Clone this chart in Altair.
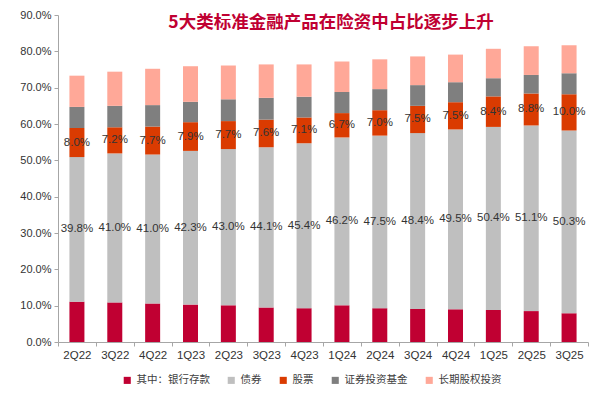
import altair as alt
import pandas as pd

quarters = ["2Q22", "3Q22", "4Q22", "1Q23", "2Q23", "3Q23", "4Q23",
            "1Q24", "2Q24", "3Q24", "4Q24", "1Q25", "2Q25", "3Q25"]
series_names = ["其中：银行存款", "债券", "股票", "证券投资基金", "长期股权投资"]
series_colors = ["#C00032", "#BFBFBF", "#DA3B01", "#7F7F7F", "#FFA898"]

bank = [11.1, 10.9, 10.6, 10.3, 10.1, 9.5, 9.3, 10.1, 9.3, 9.1, 9.0, 8.8, 8.5, 7.9]
bond = [39.8, 41.0, 41.0, 42.3, 43.0, 44.1, 45.4, 46.2, 47.5, 48.4, 49.5, 50.4, 51.1, 50.3]
stock = [8.0, 7.2, 7.7, 7.9, 7.7, 7.6, 7.1, 6.7, 7.0, 7.5, 7.5, 8.4, 8.8, 10.0]
fund = [5.8, 5.9, 5.9, 5.6, 6.0, 6.0, 5.7, 5.8, 5.8, 5.7, 5.5, 5.0, 5.1, 5.8]
equity = [8.6, 9.4, 10.0, 9.8, 9.3, 9.2, 8.9, 8.4, 8.2, 7.9, 7.6, 8.1, 7.9, 7.7]
y_ticks = [0, 10, 20, 30, 40, 50, 60, 70, 80, 90]

title_text = "5大类标准金融产品在险资中占比逐步上升"

all_series = [bank, bond, stock, fund, equity]
rows = []
for i, q in enumerate(quarters):
    for k, vals in enumerate(all_series):
        rows.append({"q": q, "s": series_names[k], "o": k, "v": vals[i]})
df = pd.DataFrame(rows)

base = alt.Chart(df).transform_stack(
    stack="v", groupby=["q"], sort=[alt.SortField("o", order="ascending")], as_=["y0", "y1"]
)

x_axis = alt.Axis(title=None, labelAngle=0, tickBand="extent", labelFont="Liberation Sans",
                  labelFontSize=11.5, labelColor="#333333", domainColor="#A6A6A6",
                  tickColor="#A6A6A6", tickSize=4, labelPadding=3)
x_scale = alt.Scale(paddingInner=0, paddingOuter=0)

y_axis = alt.Axis(title=None, values=y_ticks, tickCount=10, grid=False,
                  labelOverlap=False,
                  labelExpr="format(datum.value, '.1f') + '%'",
                  labelFont="Liberation Sans", labelFontSize=11,
                  labelColor="#333333", domainColor="#A6A6A6",
                  tickColor="#A6A6A6", tickSize=4, labelPadding=3)
y_scale = alt.Scale(domain=[0, 90], nice=False)

bars = base.mark_bar(width=15).encode(
    x=alt.X("q:N", sort=quarters, scale=x_scale, axis=x_axis),
    y=alt.Y("y0:Q", scale=y_scale, axis=y_axis),
    y2="y1:Q",
    color=alt.Color("s:N", scale=alt.Scale(domain=series_names, range=series_colors),
                    legend=alt.Legend(title=None, orient="none", direction="horizontal",
                                      legendX=64, legendY=360, columns=5,
                                      symbolType="square", symbolSize=50,
                                      symbolStrokeWidth=0,
                                      labelFont="Noto Sans CJK SC", labelFontSize=10.5,
                                      labelColor="#404040", columnPadding=16,
                                      labelOffset=4)),
)

labels = base.transform_filter(
    alt.FieldOneOfPredicate(field="s", oneOf=[series_names[1], series_names[2]])
).transform_calculate(
    mid="(datum.y0 + datum.y1) / 2",
    lab="format(datum.v, '.1f') + '%'",
).mark_text(font="Liberation Sans", fontSize=11.5, color="#333333").encode(
    x=alt.X("q:N", sort=quarters, scale=x_scale, axis=x_axis),
    y=alt.Y("mid:Q", scale=y_scale, axis=y_axis),
    text="lab:N",
)

title = alt.Chart(pd.DataFrame({"t": [title_text]})).mark_text(
    font="Noto Sans CJK SC", fontSize=17.5, fontWeight="bold", color="#C00032"
).encode(x=alt.value(273), y=alt.value(8), text="t:N")

chart = alt.layer(bars, labels, title).properties(
    width=530, height=327,
    autosize=alt.AutoSizeParams(type="none"),
    padding={"left": 50, "top": 7, "right": 7, "bottom": 44},
).configure_view(stroke=None)

chart.save("out.html", embed_options={"renderer": "svg", "actions": False})
